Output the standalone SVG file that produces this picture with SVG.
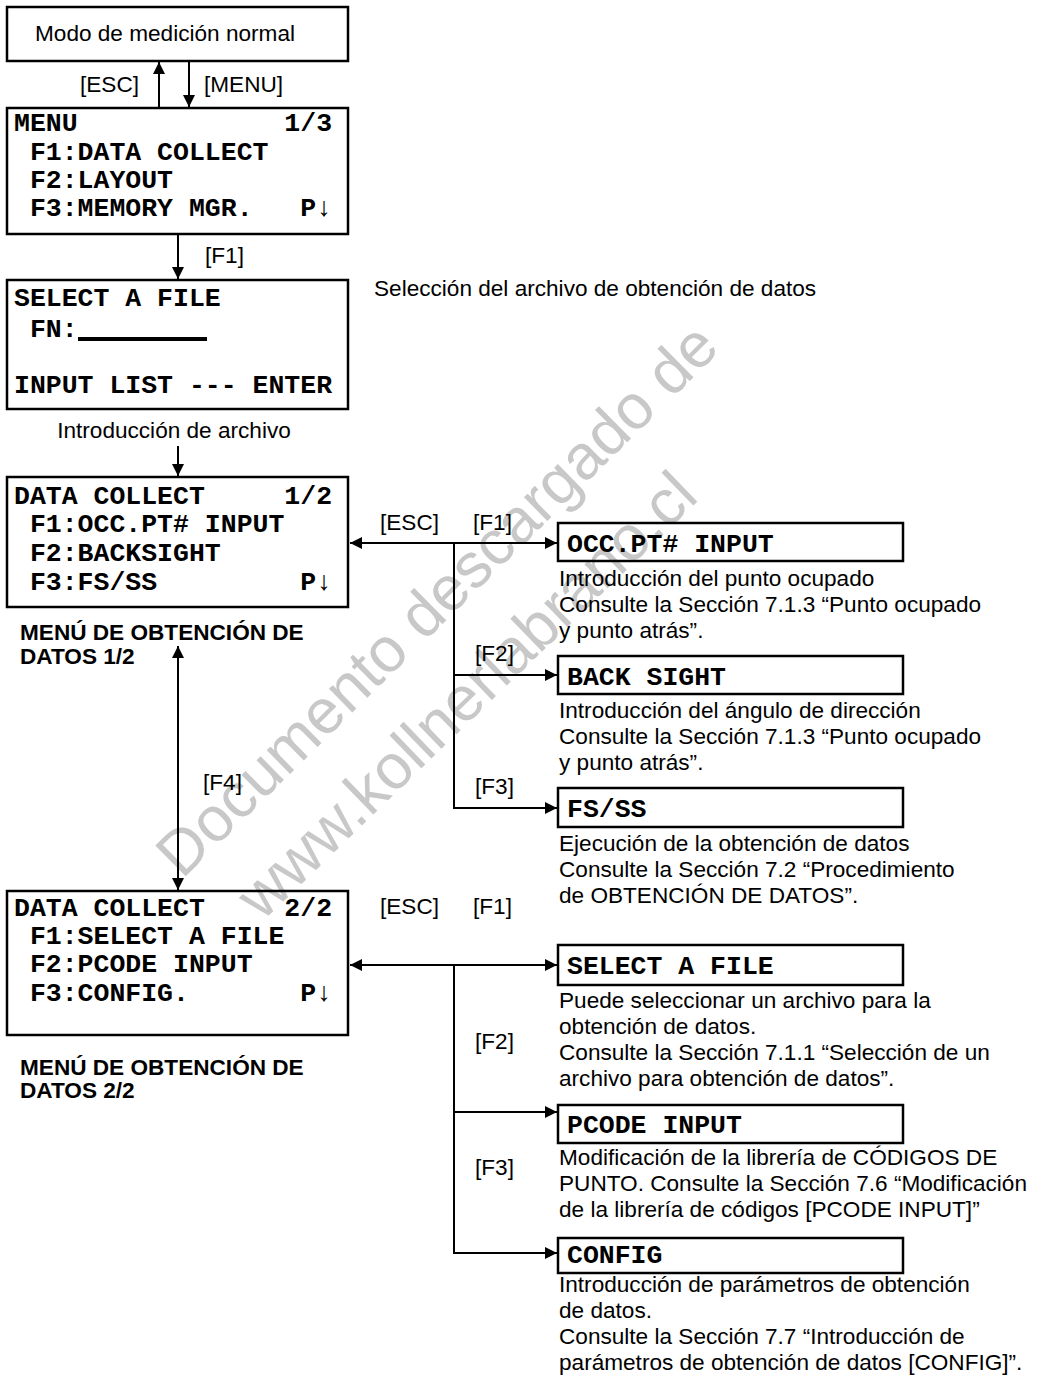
<svg xmlns="http://www.w3.org/2000/svg" width="1042" height="1380" viewBox="0 0 1042 1380">
<style>
.box{fill:none;stroke:#000;stroke-width:2.5}
.ln{fill:none;stroke:#000;stroke-width:2}
.mono{font-family:"Liberation Mono","Courier New",monospace;font-weight:bold;font-size:26.5px;fill:#000}
.t{font-family:"Liberation Sans",Arial,sans-serif;font-size:22.6px;fill:#000}
.b{font-family:"Liberation Sans",Arial,sans-serif;font-size:22.6px;font-weight:bold;fill:#000}
.wm{font-family:"Liberation Sans",Arial,sans-serif;font-size:63px;fill:#c8c8c8}
</style>
<defs>
<marker id="ah" viewBox="0 0 10 10" refX="10" refY="5" markerWidth="6" markerHeight="6" markerUnits="strokeWidth" orient="auto-start-reverse">
<path d="M0,0 L10,5 L0,10 z" fill="#000"/>
</marker>
</defs>
<rect width="1042" height="1380" fill="#fff"/>
<g id="watermark">
<text class="wm" transform="translate(182,880) rotate(-44.5)">Documento descargado de</text>
<text class="wm" transform="translate(262,922) rotate(-44)">www.kollnerlabrano.cl</text>
</g>
<g id="connectors">
<line class="ln" x1="159" y1="108" x2="159" y2="62" marker-end="url(#ah)"/>
<line class="ln" x1="189" y1="62" x2="189" y2="107" marker-end="url(#ah)"/>
<line class="ln" x1="178" y1="235" x2="178" y2="279" marker-end="url(#ah)"/>
<line class="ln" x1="178" y1="446" x2="178" y2="476" marker-end="url(#ah)"/>
<line class="ln" x1="178" y1="646" x2="178" y2="890" marker-start="url(#ah)" marker-end="url(#ah)"/>
<line class="ln" x1="350" y1="543" x2="557" y2="543" marker-start="url(#ah)" marker-end="url(#ah)"/>
<line class="ln" x1="454" y1="543" x2="454" y2="809"/>
<line class="ln" x1="453" y1="675" x2="557" y2="675" marker-end="url(#ah)"/>
<line class="ln" x1="453" y1="808" x2="557" y2="808" marker-end="url(#ah)"/>
<line class="ln" x1="350" y1="965" x2="557" y2="965" marker-start="url(#ah)" marker-end="url(#ah)"/>
<line class="ln" x1="454" y1="965" x2="454" y2="1254"/>
<line class="ln" x1="453" y1="1112" x2="557" y2="1112" marker-end="url(#ah)"/>
<line class="ln" x1="453" y1="1253" x2="557" y2="1253" marker-end="url(#ah)"/>
<text class="t" x="80" y="92">[ESC]</text>
<text class="t" x="204" y="92">[MENU]</text>
<text class="t" x="205" y="263">[F1]</text>
<text class="t" x="380" y="530">[ESC]</text>
<text class="t" x="473" y="530">[F1]</text>
<text class="t" x="475" y="661">[F2]</text>
<text class="t" x="475" y="794">[F3]</text>
<text class="t" x="203" y="790">[F4]</text>
<text class="t" x="380" y="914">[ESC]</text>
<text class="t" x="473" y="914">[F1]</text>
<text class="t" x="475" y="1049">[F2]</text>
<text class="t" x="475" y="1175">[F3]</text>
</g>
<g id="node-normal">
<rect class="box" x="7" y="7" width="341" height="54"/>
<text class="t" x="35" y="41">Modo de medición normal</text>
</g>
<g id="node-menu">
<rect class="box" x="7" y="108" width="341" height="126"/>
<text class="mono" xml:space="preserve" x="14" y="131">MENU             1/3</text>
<text class="mono" xml:space="preserve" x="14" y="160"> F1:DATA COLLECT</text>
<text class="mono" xml:space="preserve" x="14" y="188"> F2:LAYOUT</text>
<text class="mono" xml:space="preserve" x="14" y="216"> F3:MEMORY MGR.   P↓</text>
</g>
<g id="node-select-file">
<rect class="box" x="7" y="280" width="341" height="129"/>
<text class="mono" xml:space="preserve" x="14" y="306">SELECT A FILE</text>
<text class="mono" xml:space="preserve" x="14" y="337"> FN:</text>
<rect x="78" y="337" width="129" height="4" fill="#000"/>
<text class="mono" xml:space="preserve" x="14" y="393">INPUT LIST --- ENTER</text>
</g>
<text class="t" x="374" y="296">Selección del archivo de obtención de datos</text>
<text class="t" x="174" y="438" text-anchor="middle">Introducción de archivo</text>
<g id="node-dc1">
<rect class="box" x="7" y="477" width="341" height="130"/>
<text class="mono" xml:space="preserve" x="14" y="504">DATA COLLECT     1/2</text>
<text class="mono" xml:space="preserve" x="14" y="532"> F1:OCC.PT# INPUT</text>
<text class="mono" xml:space="preserve" x="14" y="561"> F2:BACKSIGHT</text>
<text class="mono" xml:space="preserve" x="14" y="590"> F3:FS/SS         P↓</text>
<text class="b" x="20" y="640">MENÚ DE OBTENCIÓN DE</text>
<text class="b" x="20" y="664">DATOS 1/2</text>
</g>
<g id="node-dc2">
<rect class="box" x="7" y="891" width="341" height="144"/>
<text class="mono" xml:space="preserve" x="14" y="916">DATA COLLECT     2/2</text>
<text class="mono" xml:space="preserve" x="14" y="944"> F1:SELECT A FILE</text>
<text class="mono" xml:space="preserve" x="14" y="972"> F2:PCODE INPUT</text>
<text class="mono" xml:space="preserve" x="14" y="1001"> F3:CONFIG.       P↓</text>
<text class="b" x="20" y="1075">MENÚ DE OBTENCIÓN DE</text>
<text class="b" x="20" y="1098">DATOS 2/2</text>
</g>
<g id="node-occ">
<rect class="box" x="558" y="523" width="345" height="38"/>
<text class="mono" x="567" y="552">OCC.PT# INPUT</text>
<text class="t" x="559" y="586">Introducción del punto ocupado</text>
<text class="t" x="559" y="612">Consulte la Sección 7.1.3 “Punto ocupado</text>
<text class="t" x="559" y="638">y punto atrás”.</text>
</g>
<g id="node-backsight">
<rect class="box" x="558" y="656" width="345" height="38"/>
<text class="mono" x="567" y="685">BACK SIGHT</text>
<text class="t" x="559" y="718">Introducción del ángulo de dirección</text>
<text class="t" x="559" y="744">Consulte la Sección 7.1.3 “Punto ocupado</text>
<text class="t" x="559" y="770">y punto atrás”.</text>
</g>
<g id="node-fsss">
<rect class="box" x="558" y="788" width="345" height="39"/>
<text class="mono" x="567" y="817">FS/SS</text>
<text class="t" x="559" y="851">Ejecución de la obtención de datos</text>
<text class="t" x="559" y="877">Consulte la Sección 7.2 “Procedimiento</text>
<text class="t" x="559" y="903">de OBTENCIÓN DE DATOS”.</text>
</g>
<g id="node-selectfile2">
<rect class="box" x="558" y="945" width="345" height="40"/>
<text class="mono" x="567" y="974">SELECT A FILE</text>
<text class="t" x="559" y="1008">Puede seleccionar un archivo para la</text>
<text class="t" x="559" y="1034">obtención de datos.</text>
<text class="t" x="559" y="1060">Consulte la Sección 7.1.1 “Selección de un</text>
<text class="t" x="559" y="1086">archivo para obtención de datos”.</text>
</g>
<g id="node-pcode">
<rect class="box" x="558" y="1105" width="345" height="38"/>
<text class="mono" x="567" y="1133">PCODE INPUT</text>
<text class="t" x="559" y="1165">Modificación de la librería de CÓDIGOS DE</text>
<text class="t" x="559" y="1191">PUNTO. Consulte la Sección 7.6 “Modificación</text>
<text class="t" x="559" y="1217">de la librería de códigos [PCODE INPUT]”</text>
</g>
<g id="node-config">
<rect class="box" x="558" y="1238" width="345" height="35"/>
<text class="mono" x="567" y="1263">CONFIG</text>
<text class="t" x="559" y="1292">Introducción de parámetros de obtención</text>
<text class="t" x="559" y="1318">de datos.</text>
<text class="t" x="559" y="1344">Consulte la Sección 7.7 “Introducción de</text>
<text class="t" x="559" y="1370">parámetros de obtención de datos [CONFIG]”.</text>
</g>
</svg>
